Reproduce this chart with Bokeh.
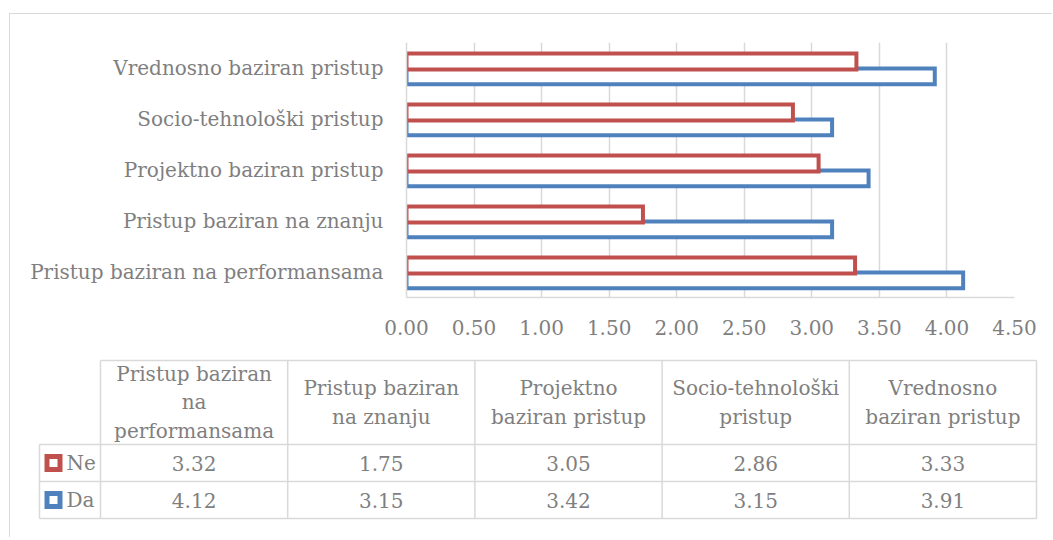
from bokeh.plotting import figure
from bokeh.models import FactorRange, Range1d, ColumnDataSource, FixedTicker, NumeralTickFormatter
from bokeh.transform import dodge
from bokeh.core.properties import value
from bokeh.embed import file_html
from bokeh.resources import INLINE

# ---------------- data ----------------
categories = [
    "Pristup baziran na performansama",
    "Pristup baziran na znanju",
    "Projektno baziran pristup",
    "Socio-tehnološki pristup",
    "Vrednosno baziran pristup",
]
header_labels = [
    "Pristup baziran\nna\nperformansama",
    "Pristup baziran\nna znanju",
    "Projektno\nbaziran pristup",
    "Socio-tehnološki\npristup",
    "Vrednosno\nbaziran pristup",
]
ne_values = [3.32, 1.75, 3.05, 2.86, 3.33]
da_values = [4.12, 3.15, 3.42, 3.15, 3.91]
series_names = ["Ne", "Da"]
x_ticks = [0.0, 0.5, 1.0, 1.5, 2.0, 2.5, 3.0, 3.5, 4.0, 4.5]

# ---------------- style ----------------
FONT = "DejaVu Serif"
TXT = "#7F7F7F"
GRID = "#D9D9D9"
RED = "#C0504D"
BLUE = "#4F81BD"
BORDER_CSS = "1px solid #D9D9D9"

# ---------------- bar chart (page y 14..348) ----------------
p1 = figure(width=1043, height=334,
            y_range=FactorRange(*categories), x_range=Range1d(0, 4.5),
            output_backend="svg", toolbar_location=None,
            min_border_left=396, min_border_right=39,
            min_border_top=28, min_border_bottom=51)
p1.background_fill_color = "white"
p1.border_fill_color = "white"
p1.outline_line_color = None
p1.styles = {"margin-top": "13px", "margin-left": "9px",
             "border-top": BORDER_CSS, "border-left": BORDER_CSS}

src = ColumnDataSource(dict(cat=categories, ne=ne_values, da=da_values))
p1.hbar(y=dodge("cat", -0.165, range=p1.y_range), left=0, right="da", height=0.31,
        source=src, fill_color="white", line_color=BLUE, line_width=4, line_join="miter")
p1.hbar(y=dodge("cat", 0.128, range=p1.y_range), left=0, right="ne", height=0.31,
        source=src, fill_color="white", line_color=RED, line_width=4, line_join="miter")

xa = p1.xaxis[0]
xa.ticker = FixedTicker(ticks=x_ticks)
xa.formatter = NumeralTickFormatter(format="0.00")
xa.major_tick_out = 0
xa.major_tick_in = 0
xa.minor_tick_out = 0
xa.minor_tick_in = 0
xa.axis_line_color = GRID
xa.axis_line_width = 1.5
xa.major_label_standoff = 22
xa.major_label_text_font = FONT
xa.major_label_text_font_size = "20px"
xa.major_label_text_color = TXT

ya = p1.yaxis[0]
ya.major_tick_out = 0
ya.major_tick_in = 0
ya.axis_line_color = GRID
ya.axis_line_width = 1.5
ya.major_label_standoff = 23
ya.major_label_text_font = FONT
ya.major_label_text_font_size = "20px"
ya.major_label_text_color = TXT

p1.ygrid.grid_line_color = None
p1.xgrid.grid_line_color = GRID
p1.xgrid.grid_line_width = 1.5

# ---------------- data table (page y 348..538) ----------------
p2 = figure(width=1043, height=190,
            x_range=Range1d(10, 1053), y_range=Range1d(538, 348),
            output_backend="svg", toolbar_location=None,
            x_axis_location=None, y_axis_location=None, min_border=0)
p2.background_fill_color = "white"
p2.border_fill_color = "white"
p2.outline_line_color = None
p2.xgrid.visible = False
p2.ygrid.visible = False
p2.styles = {"margin-left": "9px", "border-left": BORDER_CSS}

col_left = 100.0
col_w = 187.2
leg_left = 39.0
row_top, row_hdr, row_ne, row_da = 361.0, 445.0, 482.0, 519.0
col_edges = [col_left + col_w * i for i in range(len(categories) + 1)]
centers = [col_left + col_w * (i + 0.5) for i in range(len(categories))]
right_edge = col_edges[-1]

x0s, y0s, x1s, y1s = [], [], [], []
x0s += [col_left, leg_left, leg_left, leg_left]
x1s += [right_edge] * 4
y0s += [row_top, row_hdr, row_ne, row_da]
y1s += [row_top, row_hdr, row_ne, row_da]
x0s += [leg_left]
x1s += [leg_left]
y0s += [row_hdr]
y1s += [row_da]
for ce in col_edges:
    x0s.append(ce); x1s.append(ce); y0s.append(row_top); y1s.append(row_da)
p2.segment(x0=x0s, y0=y0s, x1=x1s, y1=y1s, line_color=GRID, line_width=1.5)

hdr_y = (row_top + row_hdr) / 2
p2.text(x=centers, y=[hdr_y] * len(centers), text=header_labels,
        text_align="center", text_baseline="middle",
        text_font=value(FONT), text_font_size="20px", text_color=TXT,
        text_line_height=1.2)

ne_y = (row_hdr + row_ne) / 2
da_y = (row_ne + row_da) / 2
p2.text(x=centers, y=[ne_y] * len(centers), text=[f"{v:.2f}" for v in ne_values],
        text_align="center", text_baseline="middle",
        text_font=value(FONT), text_font_size="20px", text_color=TXT)
p2.text(x=centers, y=[da_y] * len(centers), text=[f"{v:.2f}" for v in da_values],
        text_align="center", text_baseline="middle",
        text_font=value(FONT), text_font_size="20px", text_color=TXT)

p2.rect(x=[53, 53], y=[ne_y, da_y], width=13, height=13,
        fill_color="white", line_color=[RED, BLUE], line_width=5, line_join="miter")
p2.text(x=[66, 66], y=[ne_y, da_y], text=series_names,
        text_align="left", text_baseline="middle",
        text_font=value(FONT), text_font_size="20px", text_color=TXT)

open("out.html", "w").write(file_html([p1, p2], INLINE))
